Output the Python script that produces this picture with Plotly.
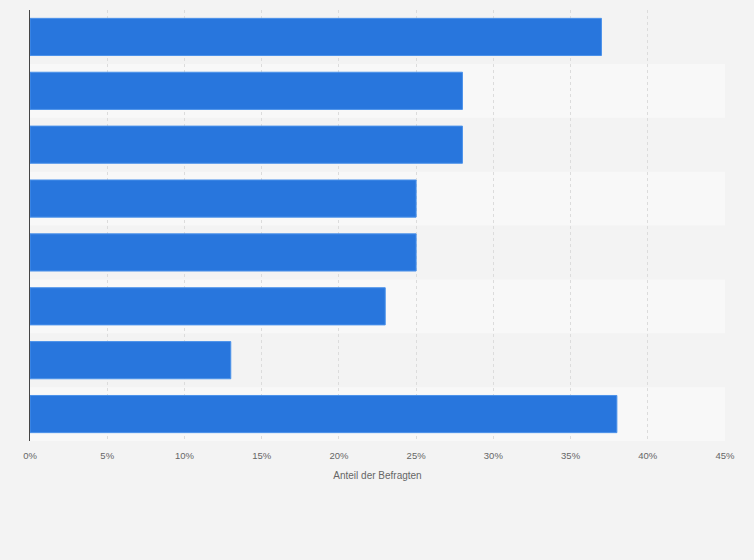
import plotly.graph_objects as go

# Antworten (keine Beschriftung im Bild sichtbar), Werte in Prozent
kategorien = ["A1", "A2", "A3", "A4", "A5", "A6", "A7", "A8"]
anteile = [37, 28, 28, 25, 25, 23, 13, 38]
tick_werte = [0, 5, 10, 15, 20, 25, 30, 35, 40, 45]
tick_texte = ["0%", "5%", "10%", "15%", "20%", "25%", "30%", "35%", "40%", "45%"]

fig = go.Figure()

fig.add_trace(go.Bar(
    x=anteile,
    y=kategorien,
    orientation="h",
    marker=dict(color="#2876dd", line=dict(color="#4c92ea", width=1)),
    hovertemplate="%{x}%<extra></extra>",
))

# abwechselnde Zeilenhintergründe
bands = []
for i in range(len(kategorien)):
    if i % 2 == 1:
        bands.append(dict(
            type="rect", xref="x", yref="y", layer="below",
            x0=0, x1=45, y0=i - 0.5, y1=i + 0.5,
            fillcolor="#f8f8f8", line=dict(width=0),
        ))

fig.update_layout(
    width=754, height=560,
    margin=dict(l=30, r=29, t=10, b=119),
    paper_bgcolor="#f3f3f3",
    plot_bgcolor="#f3f3f3",
    bargap=0.31,
    showlegend=False,
    shapes=bands,
    font=dict(family="Liberation Sans, Arial, sans-serif", color="#666666"),
    xaxis=dict(
        range=[0, 45],
        tickvals=tick_werte,
        ticktext=tick_texte,
        tickfont=dict(size=9.5, color="#666666"),
        showgrid=True, gridcolor="#dcdcdc", griddash="dot", gridwidth=1,
        zeroline=False,
        ticks="outside", ticklen=6, tickcolor="rgba(0,0,0,0)",
        title=dict(text="Anteil der Befragten", font=dict(size=10, color="#666666"), standoff=11),
        layer="below traces",
    ),
    yaxis=dict(
        autorange="reversed",
        showticklabels=False,
        showgrid=False,
        zeroline=False,
        showline=True, linecolor="#444444", linewidth=1,
        ticks="",
    ),
)

fig.write_html(
    "out.html",
    config={"displayModeBar": False},
    post_script="document.body.style.margin='0';document.body.style.background='#f3f3f3';",
)
